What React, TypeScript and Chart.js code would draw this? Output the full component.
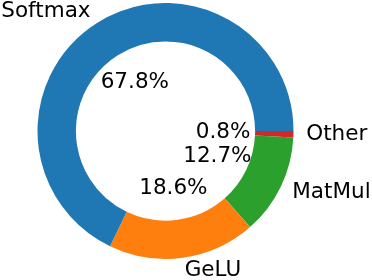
import React, { useEffect, useRef } from "react";
import { Chart, registerables } from "chart.js";

Chart.register(...registerables);

// Listed clockwise from 3 o'clock (matplotlib counter-clockwise order reversed)
const categories = ["Other", "MatMul", "GeLU", "Softmax"];
const values = [0.8, 12.7, 18.6, 67.8];
const colors = ["#d62728", "#2ca02c", "#ff7f0e", "#1f77b4"];

const FONT = "21.5px 'DejaVu Sans'";

const labelPlugin = {
  id: "pieLabels",
  afterDatasetsDraw(chart: any) {
    const ctx = chart.ctx;
    const meta = chart.getDatasetMeta(0);
    ctx.save();
    ctx.font = FONT;
    ctx.fillStyle = "#000000";
    ctx.textBaseline = "middle";
    meta.data.forEach((arc: any, i: number) => {
      const mid = (arc.startAngle + arc.endAngle) / 2;
      const r = arc.outerRadius;
      const c = Math.cos(mid);
      const s = Math.sin(mid);
      // percentage label
      ctx.textAlign = "center";
      ctx.fillText(values[i].toFixed(1) + "%", arc.x + c * r * 0.45, arc.y + s * r * 0.45);
      // category label
      ctx.textAlign = c > 0 ? "left" : "right";
      ctx.fillText(categories[i], arc.x + c * r * 1.1, arc.y + s * r * 1.1);
    });
    ctx.restore();
  },
};

export default function App() {
  const ref = useRef<HTMLCanvasElement>(null);
  useEffect(() => {
    if (!ref.current) return;
    const chart = new Chart(ref.current, {
      type: "doughnut",
      data: {
        labels: categories,
        datasets: [
          {
            data: values,
            backgroundColor: colors,
            borderWidth: 0,
          },
        ],
      },
      options: {
        responsive: false,
        animation: false,
        rotation: 90,
        cutout: "70%",
        layout: { padding: { left: 37.5, right: 78.5, top: 3, bottom: 21 } },
        plugins: {
          legend: { display: false },
          tooltip: { enabled: false },
        },
      },
      plugins: [labelPlugin],
    });
    return () => chart.destroy();
  }, []);
  return (
    <div style={{ position: "fixed", left: 0, top: 0, width: 372, height: 280, background: "#fff" }}>
      <canvas ref={ref} width={372} height={280} style={{ width: 372, height: 280 }} />
    </div>
  );
}
